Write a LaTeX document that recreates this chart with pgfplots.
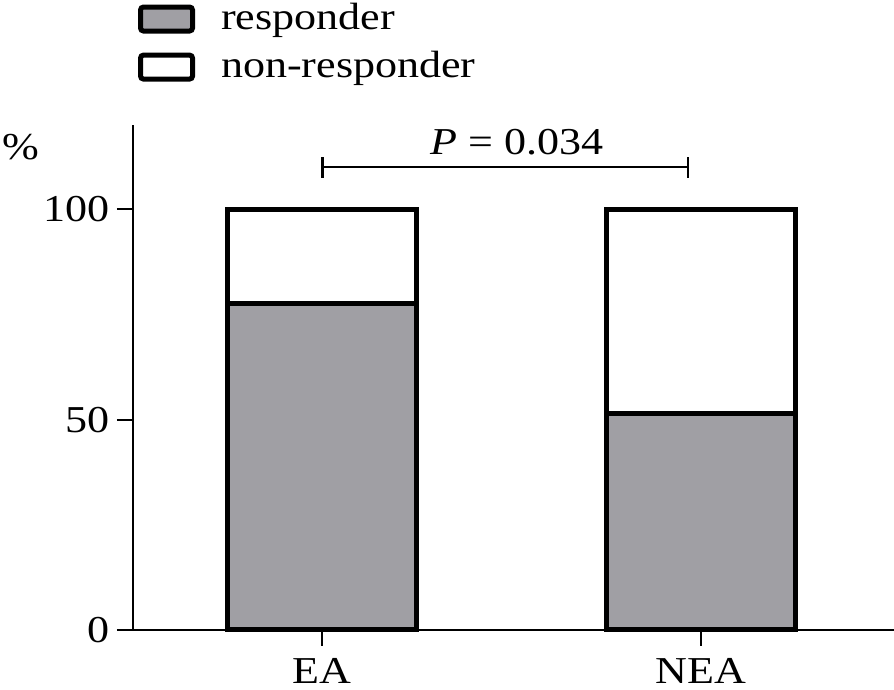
\documentclass[border=0pt]{standalone}
\usepackage{fontspec}
\setmainfont{Liberation Serif}[FakeStretch=1.16]
\usepackage{pgfplots}
\pgfplotsset{compat=1.18}
\definecolor{respgray}{RGB}{160,159,164}
\begin{document}
\fontsize{19}{22}\selectfont
\begin{tikzpicture}[font=\fontsize{19}{22}\selectfont]
\begin{axis}[
  scale only axis,
  width=380.5pt, height=252.5pt,
  xmin=-0.5, xmax=1.51, ymin=0, ymax=120,
  ybar stacked, bar width=0.5,
  axis x line=bottom, axis y line=left,
  axis line style={-, line width=1pt},
  xtick={0,1}, xticklabels={EA,NEA},
  ytick={0,50,100},
  tick align=outside, major tick length=8pt,
  tick style={line width=1pt, black},
  /pgf/number format/assume math mode=true,
  yticklabel style={anchor=east, inner sep=0pt, xshift=-3.5pt},
  xticklabel style={anchor=north, inner sep=0pt, yshift=-6pt},
  ylabel={\%},
  ylabel style={rotate=-90, at={(axis description cs:-0.1725,0.9564)}, anchor=west, inner sep=0pt},
  clip=false,
  legend style={at={(axis description cs:0.0066,1.2416)}, anchor=north west,
    draw=none, fill=none, inner sep=0pt, outer sep=0pt,
    nodes={inner sep=0pt}, row sep=8pt, column sep=13pt},
  legend cell align=left,
]
\addplot[fill=respgray, draw=black, line width=2.5pt,
  legend image code/.code={\draw[fill=respgray, draw=black, line width=2.5pt, rounded corners=1.5pt] (0pt,-6pt) rectangle (26pt,6pt);}]
  coordinates {(0,77.5) (1,51.5)};
\addlegendentry{responder}
\addplot[fill=white, draw=black, line width=2.5pt,
  legend image code/.code={\draw[fill=white, draw=black, line width=2.5pt, rounded corners=1.5pt] (0pt,-6pt) rectangle (26pt,6pt);}]
  coordinates {(0,22.5) (1,48.5)};
\addlegendentry{non-responder}
\draw[line width=1.2pt] (axis cs:0,110) -- (axis cs:0.966,110);
\draw[line width=1.2pt] (axis cs:0,107.5) -- (axis cs:0,112.5);
\draw[line width=1.2pt] (axis cs:0.966,107.5) -- (axis cs:0.966,112.5);
\node[anchor=base, inner sep=0pt] at (axis cs:0.515,112.9) {\textit{P} = 0.034};
\end{axis}
\pgfresetboundingbox
\path[use as bounding box] (-66.5pt,-30pt) rectangle (380.5pt,315pt);
\end{tikzpicture}
\end{document}
